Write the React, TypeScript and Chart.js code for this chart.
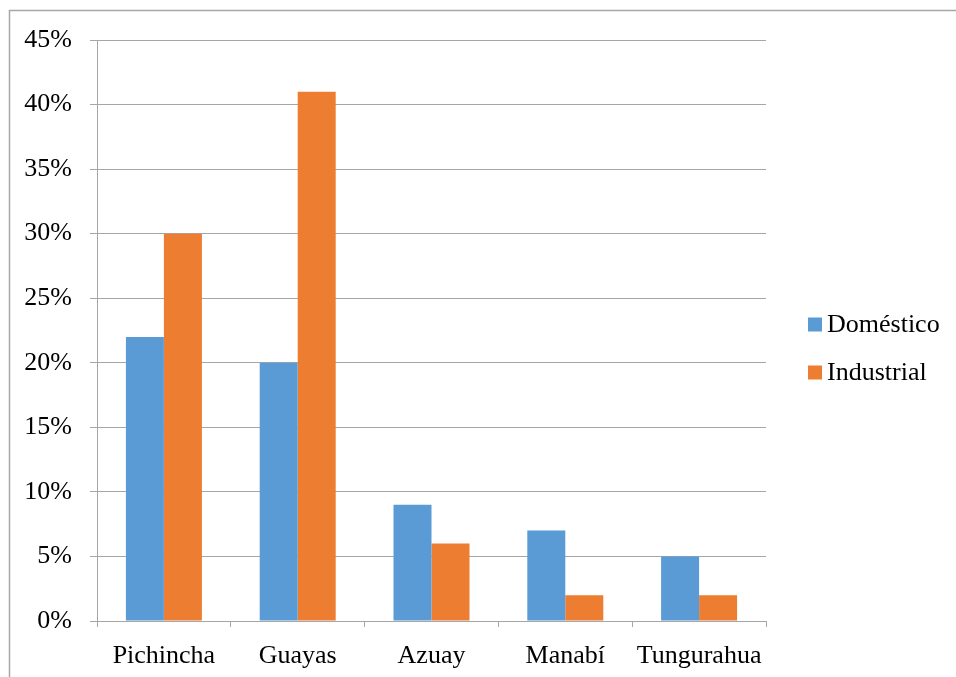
import React, { useEffect, useRef } from "react";
import { Chart, registerables } from "chart.js";

Chart.register(...registerables);

// Share of consumption by province (percent)
const provinces = ["Pichincha", "Guayas", "Azuay", "Manabí", "Tungurahua"];
const domestico = [22, 20, 9, 7, 5];
const industrial = [30, 41, 6, 2, 2];
const seriesNames = ["Doméstico", "Industrial"];
const seriesColors = ["#5b9bd5", "#ed7d31"];
const yMax = 45;
const yStep = 5;

const FONT_FAMILY = "'Liberation Serif', 'Times New Roman', serif";
const FONT_SIZE = 26;
const LINE_GREY = "#a6a6a6";

// White page, outer frame and a right-hand legend drawn beside the plot.
const framePlugin = {
  id: "frameAndLegend",
  beforeDraw(chart: any) {
    const { ctx, width, height } = chart;
    ctx.save();
    ctx.fillStyle = "#ffffff";
    ctx.fillRect(0, 0, width, height);
    ctx.strokeStyle = LINE_GREY;
    ctx.lineWidth = 1.5;
    ctx.beginPath();
    ctx.moveTo(9.5, height + 2);
    ctx.lineTo(9.5, 10.5);
    ctx.lineTo(width + 2, 10.5);
    ctx.stroke();
    ctx.restore();
  },
  afterDraw(chart: any) {
    const { ctx, chartArea } = chart;
    const x = chartArea.right + 42;
    const yMid = (chartArea.top + chartArea.bottom) / 2;
    const spacing = 48;
    const box = 14;
    ctx.save();
    ctx.font = `${FONT_SIZE}px ${FONT_FAMILY}`;
    ctx.textBaseline = "middle";
    ctx.textAlign = "left";
    chart.data.datasets.forEach((ds: any, i: number) => {
      const cy = yMid + (i - (chart.data.datasets.length - 1) / 2) * spacing + 18;
      ctx.fillStyle = ds.backgroundColor;
      ctx.fillRect(x, cy - box / 2, box, box);
      ctx.fillStyle = "#000000";
      ctx.fillText(ds.label, x + box + 5, cy + 1);
    });
    ctx.restore();
  },
};

export default function App() {
  const canvasRef = useRef<HTMLCanvasElement | null>(null);

  useEffect(() => {
    const canvas = canvasRef.current;
    if (!canvas) return;
    const chart = new Chart(canvas, {
      type: "bar",
      data: {
        labels: provinces,
        datasets: [
          { label: seriesNames[0], data: domestico, backgroundColor: seriesColors[0] },
          { label: seriesNames[1], data: industrial, backgroundColor: seriesColors[1] },
        ],
      },
      options: {
        responsive: false,
        animation: false,
        devicePixelRatio: 1,
        layout: { padding: { top: 40, right: 190, bottom: 0, left: 0 } },
        datasets: {
          bar: { categoryPercentage: 0.568, barPercentage: 1.0 },
        },
        plugins: {
          legend: { display: false },
          tooltip: { enabled: false },
        },
        scales: {
          x: {
            offset: true,
            afterFit(scale: any) {
              scale.height = 56;
            },
            grid: {
              offset: true,
              drawOnChartArea: false,
              drawTicks: true,
              tickLength: 6,
              color: LINE_GREY,
              lineWidth: 1,
            },
            border: { display: true, color: LINE_GREY, width: 1 },
            ticks: {
              color: "#000000",
              padding: 14,
              maxRotation: 0,
              font: { family: FONT_FAMILY, size: FONT_SIZE },
            },
          },
          y: {
            min: 0,
            max: yMax,
            afterFit(scale: any) {
              scale.width = 97;
            },
            grid: {
              color: LINE_GREY,
              lineWidth: 1,
              drawTicks: true,
              tickLength: 7,
            },
            border: { display: true, color: LINE_GREY, width: 1 },
            ticks: {
              stepSize: yStep,
              color: "#000000",
              padding: 18,
              font: { family: FONT_FAMILY, size: FONT_SIZE },
              callback: (v: any) => `${v}%`,
            },
          },
        },
      },
      plugins: [framePlugin],
    });
    return () => chart.destroy();
  }, []);

  return (
    <div style={{ position: "absolute", left: 0, top: 0, width: 956, height: 677 }}>
      <canvas ref={canvasRef} width={956} height={677} style={{ display: "block" }} />
    </div>
  );
}
